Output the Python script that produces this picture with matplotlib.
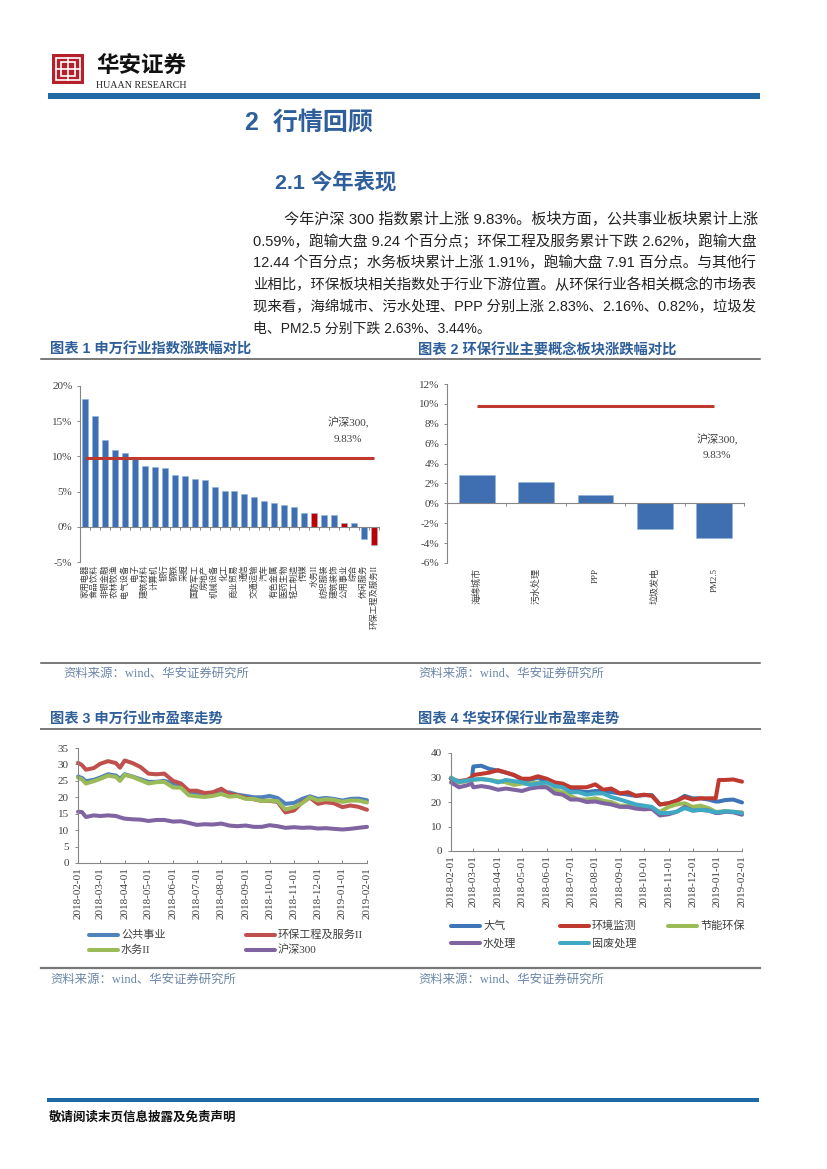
import numpy as np
import matplotlib
matplotlib.use('Agg')
import matplotlib.pyplot as plt
import matplotlib.dates as mdates
from matplotlib.patches import Rectangle

SERIF = ['Liberation Serif', 'Noto Sans CJK SC']
SANS = ['Liberation Sans', 'Noto Sans CJK SC']
plt.rcParams['font.family'] = SERIF

W, H = 827, 1169

# chart 1
ind_names = ['家用电器', '食品饮料', '非银金融', '农林牧渔', '电气设备', '电子', '建筑材料', '计算机', '银行', '钢铁',
             '采掘', '国防军工', '房地产', '机械设备', '化工', '商业贸易', '通信', '交通运输', '汽车', '有色金属',
             '医药生物', '轻工制造', '传媒', '水务II', '纺织服装', '建筑装饰', '公用事业', '综合', '休闲服务', '环保工程及服务II']
ind_values = [18.2, 15.8, 12.4, 10.9, 10.5, 9.8, 8.7, 8.5, 8.4, 7.3,
              7.2, 6.8, 6.7, 5.7, 5.1, 5.1, 4.7, 4.2, 3.6, 3.4,
              3.1, 2.8, 2.0, 1.91, 1.7, 1.65, 0.59, 0.6, -1.7, -2.62]
red_names = ['水务II', '公用事业', '环保工程及服务II']
hs300_ret = 9.83

# chart 2
concept_names = ['海绵城市', '污水处理', 'PPP', '垃圾发电', 'PM2.5']
concept_values = [2.83, 2.16, 0.82, -2.63, -3.44]

# chart 3
pe_dates = ['2018-02-01', '2018-02-06', '2018-02-11', '2018-02-21', '2018-03-01', '2018-03-11', '2018-03-21', '2018-03-26', '2018-04-01',
            '2018-04-11', '2018-04-21', '2018-05-01', '2018-05-11', '2018-05-21', '2018-06-01', '2018-06-11',
            '2018-06-21', '2018-07-01', '2018-07-11', '2018-07-21', '2018-08-01', '2018-08-11', '2018-08-21',
            '2018-09-01', '2018-09-11', '2018-09-21', '2018-10-01', '2018-10-11', '2018-10-21', '2018-11-01',
            '2018-11-11', '2018-11-21', '2018-12-01', '2018-12-11', '2018-12-21', '2019-01-01', '2019-01-11',
            '2019-01-21', '2019-02-01']
gongyong = [26.3, 25.9, 24.9, 25.3, 26.0, 27.0, 26.6, 25.6, 27.0, 26.3, 25.5, 24.7, 24.7, 25.0, 24.2, 23.6, 21.6, 21.2, 20.6, 20.6, 21.3,
            21.5, 20.8, 20.4, 20.0, 20.0, 20.4, 19.8, 18.0, 18.3, 19.5, 20.3, 19.5, 19.8, 19.5, 19.0, 19.5, 19.6, 19.1]
huanbao = [30.5, 29.8, 28.4, 28.9, 30.2, 31.0, 30.4, 29.0, 31.2, 30.4, 29.2, 27.2, 27.0, 27.2, 25.0, 24.2, 22.0, 22.0, 21.3, 21.5, 22.6,
           21.0, 20.6, 19.8, 19.4, 18.9, 18.9, 18.6, 15.4, 16.0, 18.5, 19.9, 18.0, 18.5, 18.2, 17.0, 17.5, 17.1, 16.2]
shuiwu = [26.0, 25.4, 24.2, 24.9, 25.6, 26.6, 26.2, 25.0, 26.8, 26.2, 25.2, 24.2, 24.6, 24.7, 23.0, 22.9, 20.6, 20.3, 20.1, 20.4, 21.0,
          20.2, 20.4, 19.5, 19.5, 18.9, 19.0, 18.8, 16.3, 17.0, 18.2, 20.0, 19.0, 19.4, 19.2, 18.6, 19.0, 19.0, 18.4]
hs300 = [15.6, 15.5, 14.0, 14.5, 14.3, 14.5, 14.3, 13.9, 13.5, 13.3, 13.2, 12.8, 13.1, 13.1, 12.6, 12.7, 12.2, 11.6, 11.8, 11.7, 12.0,
         11.4, 11.2, 11.4, 11.0, 11.0, 11.5, 11.2, 10.7, 10.9, 10.7, 10.8, 10.5, 10.6, 10.4, 10.2, 10.4, 10.7, 11.0]

# chart 4
ha_dates = ['2018-02-01', '2018-02-11', '2018-02-21', '2018-02-27', '2018-03-01', '2018-03-11', '2018-03-21', '2018-04-01',
            '2018-04-11', '2018-04-21', '2018-05-01', '2018-05-11', '2018-05-21', '2018-06-01', '2018-06-11', '2018-06-21',
            '2018-07-01', '2018-07-11', '2018-07-21', '2018-08-01', '2018-08-11', '2018-08-21', '2018-09-01', '2018-09-11',
            '2018-09-21', '2018-10-01', '2018-10-11', '2018-10-21', '2018-11-01', '2018-11-11', '2018-11-21', '2018-12-01',
            '2018-12-11', '2018-12-21', '2018-12-30', '2019-01-03', '2019-01-11', '2019-01-21', '2019-02-01']
daqi = [29.5, 28, 28.8, 29.2, 34.5, 34.8, 33.5, 32.8, 32, 31, 29, 29, 30, 28, 27, 26, 25, 24.5, 24, 24.5,
        24.5, 24, 23.5, 23, 22.5, 22.8, 22.8, 19, 19.5, 20.5, 22.5, 21.5, 21.5, 21, 20.2, 20.2, 20.8, 21, 19.8]
jiance = [29.5, 28.5, 29, 30, 31, 31.5, 32, 33, 32, 31, 29.5, 29.5, 30.5, 29.5, 28, 27.5, 26, 26, 26, 27.2,
          25, 25.5, 23.5, 24, 22.5, 23, 22.5, 19, 19.5, 20.5, 22, 21, 21.5, 21.5, 21.5, 29, 29, 29.2, 28.3]
jieneng = [30, 28, 28.5, 29, 29, 29.5, 29, 28.5, 28, 27, 27.5, 27.5, 28, 26, 25, 24, 22.5, 21, 21, 21.5,
           20.5, 20, 18.5, 18.5, 18, 18, 17.5, 16, 18, 19, 19.5, 18, 18.5, 17.5, 16, 16, 16.3, 16, 15.8]
shuichuli = [28, 26, 26.8, 27.5, 26, 26.5, 26, 25, 25.5, 25, 24.5, 25.5, 26, 26, 23.5, 23, 21, 21, 20, 20.2,
             19.5, 19, 18, 18, 17.3, 17, 17.2, 14.5, 15, 16, 18, 16.5, 16.8, 16.5, 15.5, 15.5, 16, 15.8, 14.8]
gufei = [29.8, 28.2, 28.8, 29, 29.2, 29.3, 29, 28, 29, 28.5, 28, 27, 27.5, 28, 26.5, 26, 24, 24, 23, 23.5,
         23.5, 22, 21, 20, 19, 18.5, 18, 15.5, 15.5, 16, 17.5, 16.5, 16.8, 16.5, 15.8, 15.8, 16.2, 16, 15.5]

body_lines = ['今年沪深 300 指数累计上涨 9.83%。板块方面，公共事业板块累计上涨',
              '0.59%，跑输大盘 9.24 个百分点；环保工程及服务累计下跌 2.62%，跑输大盘',
              '12.44 个百分点；水务板块累计上涨 1.91%，跑输大盘 7.91 百分点。与其他行',
              '业相比，环保板块相关指数处于行业下游位置。从环保行业各相关概念的市场表',
              '现来看，海绵城市、污水处理、PPP 分别上涨 2.83%、2.16%、0.82%，垃圾发',
              '电、PM2.5 分别下跌 2.63%、3.44%。']

BLUE = '#3f6fb0'
RED = '#c0392f'
TITLE_BLUE = '#2f5f9a'
AXIS = '#868686'
TXT = '#404040'


def px_axes(left, top, right, bottom):
  return fig.add_axes([left / W, 1 - bottom / H, (right - left) / W, (bottom - top) / H])


def style(ax, pad):
  for s in ['top', 'right']:
    ax.spines[s].set_visible(False)
  for s in ['left', 'bottom']:
    ax.spines[s].set_color(AXIS)
    ax.spines[s].set_linewidth(0.8)
  ax.tick_params(colors=AXIS, labelcolor=TXT, labelsize=8, width=0.7, length=2.5, pad=pad)


def bar_chart(ax, names, values, ymin, ymax, step, label_size, label_y):
  style(ax, 3)
  x = np.arange(len(names))
  colors = [('#c00000' if n in red_names else BLUE) for n in names]
  ax.bar(x, values, width=0.6, color=colors, edgecolor='#8fb4dc', linewidth=0.4)
  ax.plot(x, [hs300_ret] * len(x), color=RED, lw=2.2, solid_capstyle='butt')
  ax.set_xlim(-0.5, len(names) - 0.5)
  ax.set_ylim(ymin, ymax)
  ax.set_yticks(np.arange(ymin, ymax + 1, step))
  ax.set_yticklabels(['%d%%' % v for v in np.arange(ymin, ymax + 1, step)])
  ax.spines['bottom'].set_position(('data', 0))
  ax.set_xticks(np.arange(-0.5, len(names)))
  ax.set_xticklabels([])
  for i, n in enumerate(names):
    ax.text(i, label_y, n, transform=ax.get_xaxis_transform(), rotation=90, ha='center', va='top',
            fontsize=label_size, color=TXT)


def line_chart(ax, dates, series, ymax, step):
  style(ax, 4)
  d = [np.datetime64(v) for v in dates]
  for vals, c in series:
    ax.plot(d, vals, color=c, lw=2.9, solid_capstyle='round', clip_on=False)
  ax.set_xlim(np.datetime64('2018-02-01'), np.datetime64('2019-02-01'))
  ax.set_ylim(0, ymax)
  ax.set_yticks(np.arange(0, ymax + 1, step))
  ax.xaxis.set_major_locator(mdates.MonthLocator())
  ax.xaxis.set_major_formatter(mdates.DateFormatter('%Y-%m-%d'))
  ax.tick_params(axis='x', rotation=90, direction='in', pad=3)


fig = plt.figure(figsize=(8.27, 11.69), dpi=100)

# chart 1 and 2
ax1 = px_axes(80, 386, 379, 562)
bar_chart(ax1, ind_names, ind_values, -5, 20, 5, 6, -0.015)
ax2 = px_axes(447, 384, 744, 563)
bar_chart(ax2, concept_names, concept_values, -6, 12, 2, 6.5, -0.03)

# chart 3 and 4
ax3 = px_axes(78, 748, 367, 863)
line_chart(ax3, pe_dates, [(gongyong, '#4f81bd'), (huanbao, '#c0504d'), (shuiwu, '#9bbb59'), (hs300, '#8064a2')], 35, 5)
ax4 = px_axes(451, 753, 742, 851)
line_chart(ax4, ha_dates, [(daqi, '#3d75b8'), (jiance, '#c0392f'), (jieneng, '#9bbb59'), (shuichuli, '#8064a2'),
                           (gufei, '#3fa9c4')], 40, 10)

# page furniture in pixel coordinates
page = fig.add_axes([0, 0, 1, 1], zorder=5)
page.set_xlim(0, W)
page.set_ylim(H, 0)
page.axis('off')
page.patch.set_alpha(0)


def txt(x, y, s, size, color=TXT, weight='normal', family=SERIF, ha='left', va='center'):
  return page.text(x, y, s, fontsize=size, color=color, fontweight=weight, family=family, ha=ha, va=va)


# legends
for x, y, name, c in [(89, 935, '公共事业', '#4f81bd'), (246, 935, '环保工程及服务II', '#c0504d'),
                      (89, 950, '水务II', '#9bbb59'), (246, 950, '沪深300', '#8064a2'),
                      (451, 926, '大气', '#3d75b8'), (560, 926, '环境监测', '#c0392f'), (668, 926, '节能环保', '#9bbb59'),
                      (451, 943, '水处理', '#8064a2'), (560, 943, '固废处理', '#3fa9c4')]:
  page.plot([x, x + 29], [y, y], color=c, lw=2.9, solid_capstyle='round')
  txt(x + 32, y, name, 8)

# logo
page.add_patch(Rectangle((52, 54), 32, 30, fc='#b5202a', ec='none'))
page.add_patch(Rectangle((56, 58), 24, 22, fc='none', ec='white', lw=1.2))
page.add_patch(Rectangle((61, 62), 14, 14, fc='none', ec='white', lw=1.2))
page.plot([68, 68], [58, 80], color='white', lw=1.2)
page.plot([56, 80], [69, 69], color='white', lw=1.2)
txt(96, 66, '华安证券', 16.2, color='#111111', weight='bold', family=SANS)
txt(96, 85, 'HUAAN RESEARCH', 7.2, color='#222222')

page.add_patch(Rectangle((48, 93), 712, 6, fc='#1f6aa5', ec='none'))
page.add_patch(Rectangle((47, 1098), 712, 4, fc='#1f6aa5', ec='none'))
txt(49, 1118, '敬请阅读末页信息披露及免责声明', 9, color='#111111', weight='bold', family=SANS)

txt(245, 123, '2  行情回顾', 18, color=TITLE_BLUE, weight='bold', family=SANS)
txt(275, 183, '2.1 今年表现', 15.4, color=TITLE_BLUE, weight='bold', family=SANS)

# body text, each line fitted to the column width
renderer = fig.canvas.get_renderer()
for i, line in enumerate(body_lines):
  left = 284 if i == 0 else 253
  t = txt(left, 224 + i * 21.8, line, 10, color='#222222', family=SANS, va='baseline')
  if i < len(body_lines) - 1:
    t.set_fontsize(10 * (757 - left) / t.get_window_extent(renderer).width)

for x, y, s in [(50, 350, '图表 1 申万行业指数涨跌幅对比'), (418, 350, '图表 2 环保行业主要概念板块涨跌幅对比'),
                (50, 720, '图表 3 申万行业市盈率走势'), (418, 720, '图表 4 华安环保行业市盈率走势')]:
  txt(x, y, s, 10.3, color=TITLE_BLUE, weight='bold', family=SANS)

for x, y in [(63, 674), (418, 674), (50, 980), (418, 980)]:
  txt(x, y, '资料来源：wind、华安证券研究所', 8.9, color='#6b85a8')

page.plot([41, 760], [359, 359], color='#555555', lw=1.1)
page.plot([41, 760], [663, 663], color='#555555', lw=1.1)
page.plot([41, 760], [729, 729], color='#777777', lw=1.4)
page.plot([41, 760], [968, 968], color='#777777', lw=1.6)

txt(348, 423, '沪深300,', 8, ha='center')
txt(348, 439, '9.83%', 8, ha='center')
txt(717, 440, '沪深300,', 8, ha='center')
txt(717, 456, '9.83%', 8, ha='center')

fig.savefig('out.png', dpi=100)
